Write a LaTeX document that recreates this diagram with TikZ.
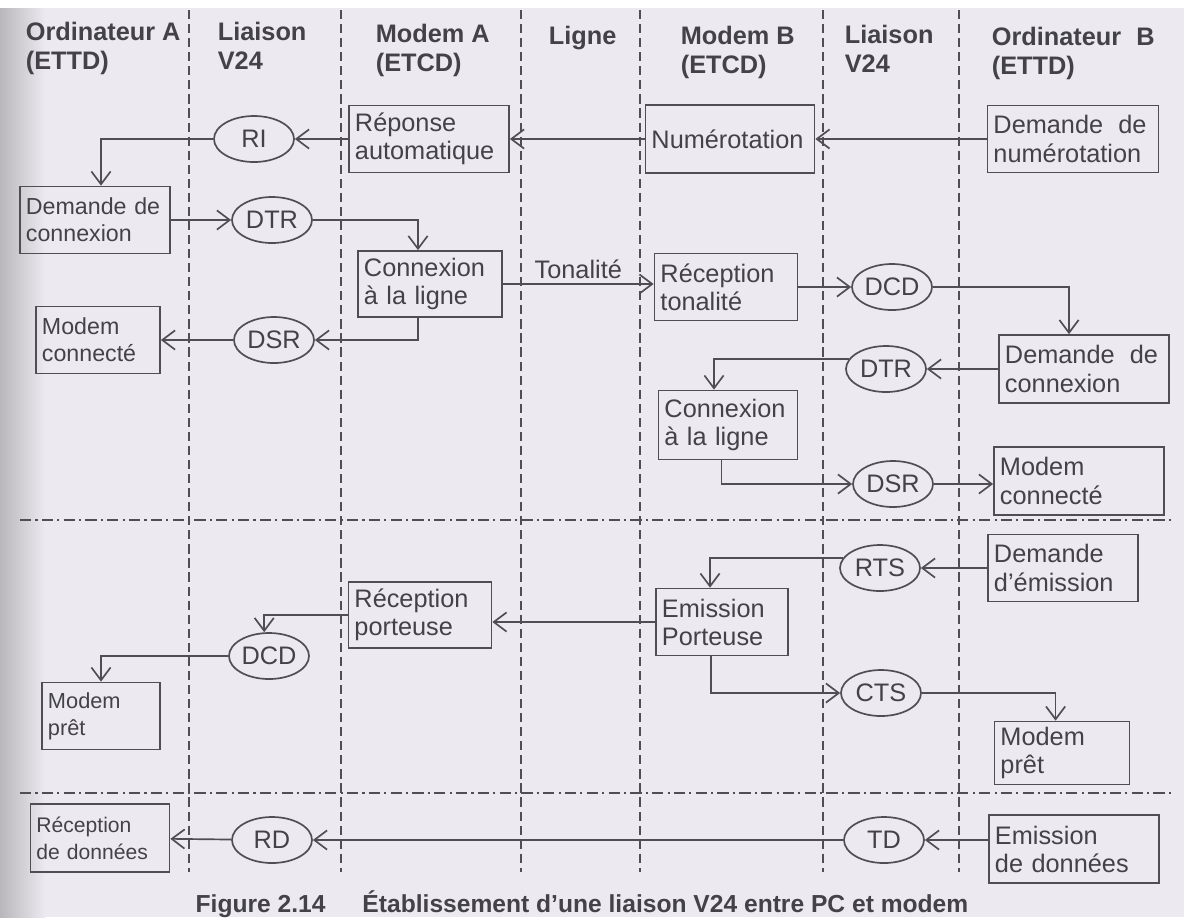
\documentclass[tikz,border=0pt]{standalone}
\usepackage{fontspec}
\setmainfont{Liberation Sans}
\usetikzlibrary{shapes.geometric,arrows.meta}
\definecolor{paper}{RGB}{236,234,240}
\definecolor{ink}{RGB}{66,66,72}
\definecolor{rule}{RGB}{78,78,84}
\begin{document}
\begin{tikzpicture}
  [x=0.025cm, y=-0.025cm, line width=1.2pt,
   box node/.style={rectangle, draw=rule, align=left, text=ink, inner xsep=0.15cm, inner ysep=0pt,
     font=\fontsize{18}{20}\selectfont},
   small box/.style={box node, font=\fontsize{16.5}{19}\selectfont},
   sig node/.style={ellipse, draw=rule, minimum width=2cm, minimum height=1.15cm, inner sep=0pt,
     text=ink, font=\fontsize{18}{20}\selectfont},
   head node/.style={anchor=north west, align=left, inner sep=0pt, text=ink,
     font=\bfseries\fontsize{18}{20.5}\selectfont},
   lbl/.style={text=ink, font=\fontsize{18}{20}\selectfont},
   lane/.style={draw=rule, line width=0.8pt, dash pattern=on 6.5pt off 3.5pt},
   phase/.style={draw=rule, line width=0.8pt, dash pattern=on 8pt off 3pt on 1.5pt off 3pt},
   flow/.style={draw=rule, -{Straight Barb[length=3.2mm,width=4.8mm]}}]
  \useasboundingbox (0,0) rectangle (1184,917);
  % paper
  \fill[paper] (0,0) rectangle (1184,917);
  \fill[white] (0,0) rectangle (1184,8);
  \shade[left color=paper!78!black, right color=paper] (0,8) rectangle (45,917);

  % lanes and phases
  \foreach \x in {189,341,521,640,823,959}
    \draw[lane] (\x,10) -- (\x,872);
  \foreach \y in {520,793}
    \draw[phase] (20,\y) -- (1175,\y);

  % column heads
  \node[head node] (hOrdA) at (25,21) {Ordinateur A\\(ETTD)};
  \node[head node] (hLiaA) at (217,21) {Liaison\\V24};
  \node[head node] (hModA) at (375,23) {Modem A\\(ETCD)};
  \node[head node] (hLigne) at (548,25) {Ligne};
  \node[head node] (hModB) at (680,25) {Modem B\\(ETCD)};
  \node[head node] (hLiaB) at (844,24) {Liaison\\V24};
  \node[head node] (hOrdB) at (991,26) {Ordinateur\hspace{0.6em}B\\(ETTD)};

  % boxes
  \node[box node, text width=3.7cm, minimum height=1.675cm] (rep) at (429,139) {Réponse\\automatique};
  \node[box node, text width=3.925cm, minimum height=1.7cm] (num) at (730,139) {Numérotation};
  \node[box node, text width=3.975cm, minimum height=1.675cm] (demNum) at (1073,139) {Demande\hspace{0.6em}de\\numérotation};
  \node[small box, text width=3.45cm, minimum height=1.675cm] (demA) at (95,220) {Demande de\\connexion};
  \node[box node, text width=3.3cm, minimum height=1.65cm] (cnxA) at (430,284) {Connexion\\à la ligne};
  \node[box node, text width=3.275cm, minimum height=1.675cm] (recT) at (726,287) {Réception\\tonalité};
  \node[small box, text width=2.8cm, minimum height=1.675cm] (modA) at (98,340) {Modem\\connecté};
  \node[box node, text width=3.95cm, minimum height=1.7cm] (demB) at (1084,369) {Demande\hspace{0.6em}de\\connexion};
  \node[box node, text width=3.175cm, minimum height=1.725cm] (cnxB) at (728,425) {Connexion\\à la ligne};
  \node[box node, text width=3.95cm, minimum height=1.7cm] (modB) at (1079,481) {Modem\\connecté};
  \node[box node, text width=3.45cm, minimum height=1.675cm] (demE) at (1063,568) {Demande\\d’émission};
  \node[box node, text width=3.0cm, minimum height=1.675cm] (emP) at (722,622) {Emission\\Porteuse};
  \node[box node, text width=3.275cm, minimum height=1.65cm] (recP) at (420,615) {Réception\\porteuse};
  \node[small box, font=\fontsize{15.5}{19}\selectfont, text width=2.65cm, minimum height=1.675cm] (pretA) at (101,716) {Modem\\prêt};
  \node[box node, text width=3.075cm, minimum height=1.575cm] (pretB) at (1062,753) {Modem\\prêt};
  \node[small box, font=\fontsize{15}{19}\selectfont, text width=3.175cm, minimum height=1.7cm] (recD) at (100,838) {Réception\\de données};
  \node[box node, text width=3.95cm, minimum height=1.7cm] (emD) at (1074,849) {Emission\\de données};

  % signals
  \node[sig node] (ri) at (254,139) {RI};
  \node[sig node] (dtrA) at (272,220) {DTR};
  \node[sig node] (dsrA) at (274,340) {DSR};
  \node[sig node] (dcdB) at (892,287) {DCD};
  \node[sig node] (dtrB) at (886,369) {DTR};
  \node[sig node] (dsrB) at (893,484) {DSR};
  \node[sig node] (rts) at (880,568) {RTS};
  \node[sig node] (cts) at (881,693) {CTS};
  \node[sig node] (td) at (884,840) {TD};
  \node[sig node] (dcdA) at (269,656) {DCD};
  \node[sig node] (rd) at (272,840) {RD};

  % connection set-up
  \draw[flow] (demNum) -- (num);
  \draw[flow] (num) -- (rep);
  \draw[flow] (rep) -- (ri);
  \draw[flow] (ri) -| ([xshift=0.15cm]demA.north);
  \draw[flow] (demA) -- (dtrA);
  \draw[flow] (dtrA) -| ([xshift=-0.3cm]cnxA.north);
  \draw[flow] (cnxA.east) -- node[lbl, above] {Tonalité} (cnxA.east -| recT.west);
  \draw[flow] (recT) -- (dcdB);
  \draw[flow] ([xshift=-0.3cm]cnxA.south) |- (dsrA);
  \draw[flow] (dsrA) -- (modA);
  \draw[flow] (dcdB) -| ([xshift=-0.375cm]demB.north);
  \draw[flow] (demB) -- (dtrB);
  \draw[flow] (dtrB.165) -| ([xshift=-0.35cm]cnxB.north);
  \draw[flow] ([xshift=-0.16cm]cnxB.south) |- (dsrB);
  \draw[flow] (dsrB.east) -- (dsrB.east -| modB.west);

  % carrier
  \draw[flow] (demE) -- (rts);
  \draw[flow] (rts.165) -| ([xshift=-0.3cm]emP.north);
  \draw[flow] (emP.west) -- (emP.west -| recP.east);
  \draw[flow] (recP.west) -| ([xshift=-0.12cm]dcdA.north);
  \draw[flow] (dcdA) -| (pretA.north);
  \draw[flow] ([xshift=-0.28cm]emP.south) |- (cts);
  \draw[flow] (cts) -| ([xshift=-0.16cm]pretB.north);

  % data
  \draw[flow] (td.east -| emD.west) -- (td);
  \draw[flow] (td) -- (rd);
  \draw[flow] (rd) -- (recD);

  % caption
  \node[anchor=base, text=ink, font=\bfseries\fontsize{17.5}{19}\selectfont] (cap) at (582,912)
    {Figure 2.14\hspace{1.5em}Établissement d’une liaison V24 entre PC et modem};
\end{tikzpicture}
\end{document}
